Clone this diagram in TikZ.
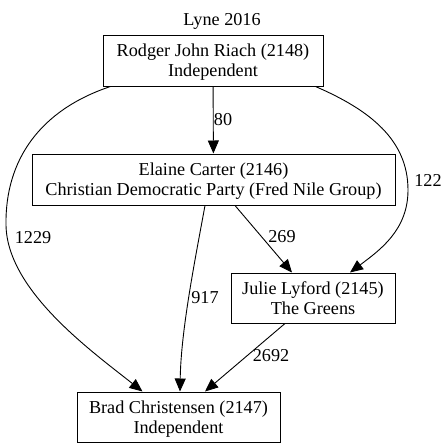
\documentclass[tikz,border=0pt]{standalone}
\usepackage{fontspec}
\setmainfont{Liberation Serif}
\usetikzlibrary{arrows.meta}
\begin{document}
\begin{tikzpicture}[
    x=1pt, y=-1pt,
    font=\fontsize{18.2}{20}\selectfont,
    candidate/.style={rectangle, draw, line width=1pt, align=center, inner sep=0pt, text depth=-2pt},
    flow/.style={draw, line width=0.9pt, -{Triangle[length=13pt,width=11pt]}},
    votes/.style={inner sep=0pt}
]
\useasboundingbox (0,0) rectangle (447,448);

% Titel
\node[align=center] (title) at (222,21) {Lyne 2016};

% Kandidaten
\node[candidate, minimum width=220pt, minimum height=51pt] (riach) at (213,60.5) {Rodger John Riach (2148)\\Independent};
\node[candidate, minimum width=363pt, minimum height=51pt] (carter) at (213.5,179.5) {Elaine Carter (2146)\\Christian Democratic Party (Fred Nile Group)};
\node[candidate, minimum width=164pt, minimum height=50pt] (lyford) at (313,298) {Julie Lyford (2145)\\The Greens};
\node[candidate, minimum width=203pt, minimum height=50pt] (brad) at (178.5,417) {Brad Christensen (2147)\\Independent};

% Stimmenfluss
\draw[flow] (riach) -- (carter);
\draw[flow] ([xshift=8pt]riach.south west) .. controls (40,110) and (5,160) .. (6,225)
    .. controls (7,290) and (90,350) .. ([xshift=66pt]brad.north west);
\draw[flow] ([xshift=-8pt]riach.south east) .. controls (370,110) and (408,140) .. (408,190)
    .. controls (408,230) and (380,250) .. ([xshift=37pt]lyford.north);
\draw[flow] ([xshift=-8.5pt]carter.south) .. controls (195,260) and (181,330) .. ([xshift=1.5pt]brad.north);
\draw[flow] ([xshift=21.5pt]carter.south) -- ([xshift=-21pt]lyford.north);
\draw[flow] ([xshift=-28pt]lyford.south) -- ([xshift=26.5pt]brad.north);

% Stimmen
\node[votes] (v80) at (223,120) {80};
\node[votes] (v1229) at (33,238) {1229};
\node[votes] (v122) at (428,180) {122};
\node[votes] (v917) at (205,298) {917};
\node[votes] (v269) at (282,237) {269};
\node[votes] (v2692) at (271,356) {2692};

\end{tikzpicture}
\end{document}
